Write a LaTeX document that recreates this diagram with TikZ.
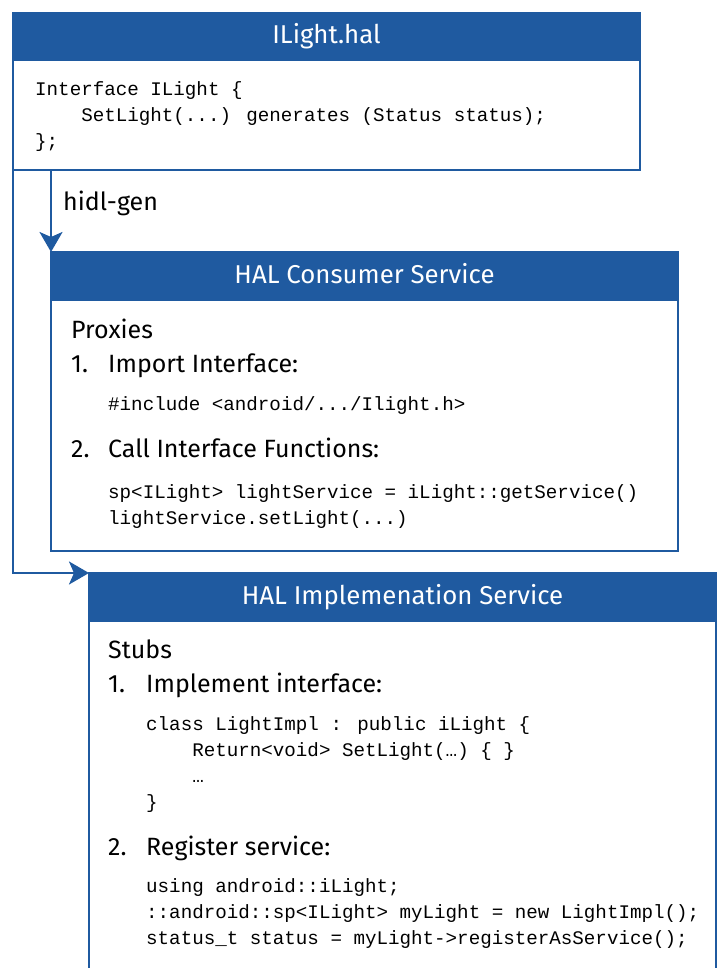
\documentclass[tikz,border=0pt]{standalone}
\usepackage{fontspec}
\setmainfont{Fira Sans}
\newfontfamily\codefont{Liberation Mono}
\usetikzlibrary{arrows.meta,positioning}
\definecolor{halblue}{HTML}{1F5AA0}
\newcommand\ind{\phantom{0000}}

\begin{document}
\begin{tikzpicture}[
  x=1pt, y=-1pt,
  box/.style={draw=halblue, line width=2.5pt, fill=white, inner sep=0pt, outer sep=0pt, anchor=north west},
  head/.style={box, fill=halblue, text=white, font=\fontsize{25.8}{30}\selectfont, minimum height=48pt, text height=18pt, text depth=4pt},
  item/.style={anchor=base west, inner sep=0pt, font=\fontsize{25}{30}\selectfont},
  code/.style={anchor=base west, inner sep=0pt, align=left, font=\codefont\fontsize{19.2}{26}\selectfont},
  arr/.style={-{Stealth[length=20pt, width=23pt, inset=5pt]}, line width=2.5pt, halblue}
]
  \useasboundingbox (0,0) rectangle (720,968);
  \clip (0,0) rectangle (720,968);

  % interface file (code nodes sit on the baseline of their last line)
  \node[box, minimum width=627pt, minimum height=157pt] (ilight) at (13,13) {};
  \node[head, minimum width=627pt, minimum height=47pt] (ilighthead) at (ilight.north west) {ILight.hal};
  \node[code] (ilightcode) at (35,148) {Interface ILight \{\\ \ind SetLight(...) generates (Status status);\\ \};};

  % consumer side
  \node[box, minimum width=627pt, minimum height=299pt] (cons) at (51,252) {};
  \node[head, minimum width=627pt] (conshead) at (cons.north west) {HAL Consumer Service};
  \node[item] (proxies) at (71,338) {Proxies};
  \node[item] (consone) at (71,372) {\makebox[37pt][l]{1.}Import Interface:};
  \node[code] (consinc) at (108,410) {\#include <android/.../Ilight.h>};
  \node[item] (constwo) at (71,457) {\makebox[37pt][l]{2.}Call Interface Functions:};
  \node[code] (conscall) at (108,524) {sp<ILight> lightService = iLight::getService()\\ lightService.setLight(...)};

  % implementation side
  \node[box, minimum width=627pt, minimum height=430pt] (impl) at (89,573) {};
  \node[head, minimum width=627pt] (implhead) at (impl.north west) {HAL Implemenation Service};
  \node[item] (stubs) at (108,658) {Stubs};
  \node[item] (implone) at (108,692) {\makebox[38pt][l]{1.}Implement interface:};
  \node[code] (implclass) at (146,808) {class LightImpl : public iLight \{\\ \ind Return<void> SetLight(…) \{ \}\\ \ind …\\ \}};
  \node[item] (impltwo) at (108,855) {\makebox[38pt][l]{2.}Register service:};
  \node[code] (implreg) at (146,944) {using android::iLight;\\ ::android::sp<ILight> myLight = new LightImpl();\\ status\_t status = myLight->registerAsService();};

  % generation arrows
  \node[item] (gen) at (63,211) {hidl-gen};
  \draw[arr] (cons.north west |- ilight.south) -- (cons.north west);
  \draw[arr] (ilight.south west) |- (impl.north west);
\end{tikzpicture}
\end{document}
